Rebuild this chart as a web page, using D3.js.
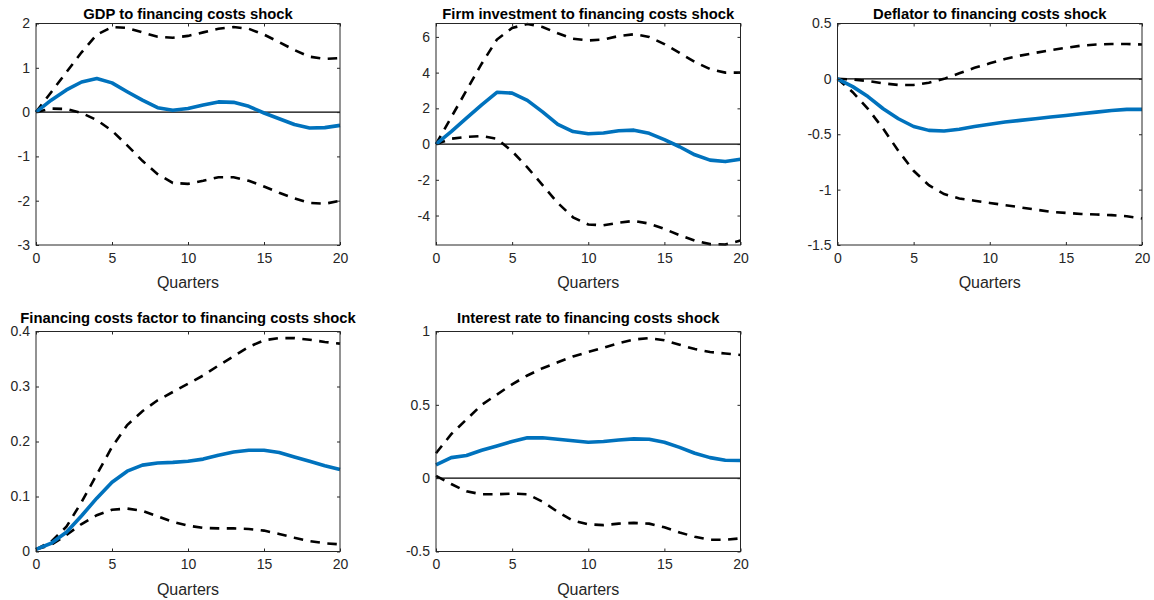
<!DOCTYPE html>
<html>
<head>
<meta charset="utf-8">
<script src="https://cdn.jsdelivr.net/npm/d3@7"></script>
<style>
  html, body { margin: 0; padding: 0; background: #fff; }
  svg { display: block; }
</style>
</head>
<body>
<svg id="chart" width="1154" height="600"></svg>
<script>
// ---------- DATA ----------
const quarters = d3.range(0, 21);
const xTicks = [0, 5, 10, 15, 20];
const xLabel = "Quarters";

const titles = [
  "GDP to financing costs shock",
  "Firm investment to financing costs shock",
  "Deflator to financing costs shock",
  "Financing costs factor to financing costs shock",
  "Interest rate to financing costs shock"
];

const gdpMed = [0, 0.27, 0.5, 0.68, 0.76, 0.66, 0.46, 0.27, 0.1, 0.04, 0.08, 0.16, 0.23, 0.22, 0.13, -0.02, -0.15, -0.28, -0.36, -0.35, -0.3];
const gdpUp  = [0, 0.45, 0.9, 1.35, 1.75, 1.92, 1.9, 1.8, 1.7, 1.68, 1.72, 1.8, 1.88, 1.92, 1.88, 1.75, 1.58, 1.4, 1.25, 1.2, 1.22];
const gdpLo  = [0, 0.08, 0.07, -0.02, -0.18, -0.42, -0.75, -1.1, -1.4, -1.6, -1.62, -1.55, -1.47, -1.47, -1.55, -1.68, -1.82, -1.95, -2.05, -2.07, -2.0];

const invMed = [0, 0.7, 1.45, 2.2, 2.9, 2.85, 2.45, 1.8, 1.1, 0.7, 0.58, 0.62, 0.75, 0.78, 0.6, 0.25, -0.15, -0.6, -0.9, -0.98, -0.85];
const invUp  = [0, 1.5, 3.0, 4.5, 5.85, 6.5, 6.72, 6.55, 6.2, 5.9, 5.8, 5.85, 6.05, 6.15, 6.0, 5.6, 5.1, 4.6, 4.2, 4.0, 4.0];
const invLo  = [0, 0.3, 0.4, 0.45, 0.3, -0.4, -1.3, -2.3, -3.3, -4.1, -4.5, -4.55, -4.4, -4.3, -4.45, -4.75, -5.1, -5.4, -5.6, -5.62, -5.4];

const defMed = [0, -0.07, -0.16, -0.27, -0.36, -0.43, -0.465, -0.47, -0.455, -0.43, -0.41, -0.39, -0.375, -0.36, -0.345, -0.33, -0.315, -0.3, -0.285, -0.275, -0.275];
const defUp  = [0, -0.005, -0.02, -0.04, -0.055, -0.055, -0.035, 0.0, 0.05, 0.1, 0.14, 0.18, 0.21, 0.235, 0.26, 0.28, 0.3, 0.31, 0.315, 0.315, 0.31];
const defLo  = [0, -0.12, -0.27, -0.45, -0.65, -0.83, -0.96, -1.04, -1.08, -1.1, -1.12, -1.14, -1.16, -1.18, -1.2, -1.21, -1.22, -1.225, -1.23, -1.24, -1.26];

const fcfMed = [0.004, 0.015, 0.035, 0.065, 0.097, 0.126, 0.146, 0.157, 0.161, 0.162, 0.164, 0.168, 0.175, 0.181, 0.184, 0.184, 0.18, 0.172, 0.164, 0.156, 0.149];
const fcfUp  = [0.004, 0.018, 0.045, 0.09, 0.14, 0.19, 0.23, 0.255, 0.275, 0.29, 0.305, 0.32, 0.338, 0.355, 0.372, 0.384, 0.388, 0.388, 0.385, 0.381, 0.378];
const fcfLo  = [0.004, 0.012, 0.03, 0.05, 0.066, 0.076, 0.078, 0.074, 0.064, 0.054, 0.047, 0.043, 0.042, 0.042, 0.041, 0.038, 0.032, 0.025, 0.019, 0.015, 0.013];

const irMed = [0.09, 0.14, 0.155, 0.19, 0.22, 0.25, 0.275, 0.275, 0.265, 0.255, 0.245, 0.25, 0.26, 0.268, 0.265, 0.245, 0.21, 0.17, 0.14, 0.122, 0.12];
const irUp  = [0.17, 0.3, 0.4, 0.5, 0.57, 0.64, 0.7, 0.75, 0.79, 0.83, 0.86, 0.89, 0.92, 0.945, 0.955, 0.94, 0.91, 0.88, 0.86, 0.85, 0.84];
const irLo  = [0.015, -0.04, -0.09, -0.11, -0.11, -0.105, -0.11, -0.16, -0.23, -0.29, -0.315, -0.32, -0.31, -0.305, -0.31, -0.335, -0.37, -0.4, -0.42, -0.42, -0.41];

const yDomains = [[-3, 2], [-5.65, 6.75], [-1.5, 0.5], [0, 0.4], [-0.5, 1]];
const yTicks = [
  [-3, -2, -1, 0, 1, 2],
  [-4, -2, 0, 2, 4, 6],
  [-1.5, -1, -0.5, 0, 0.5],
  [0, 0.1, 0.2, 0.3, 0.4],
  [-0.5, 0, 0.5, 1]
];
const medians = [gdpMed, invMed, defMed, fcfMed, irMed];
const uppers  = [gdpUp, invUp, defUp, fcfUp, irUp];
const lowers  = [gdpLo, invLo, defLo, fcfLo, irLo];

// ---------- LAYOUT ----------
const boxes = [
  {x: 36,  y: 23.5,  w: 304, h: 221.5, t: -5},
  {x: 436, y: 23.5,  w: 304.5, h: 221.5, t: -5},
  {x: 837.5, y: 23.5, w: 304.5, h: 221.5, t: -5},
  {x: 36,  y: 331.5, w: 304, h: 220, t: -8.5},
  {x: 436, y: 331.5, w: 304.5, h: 220, t: -8.5}
];

const svg = d3.select("#chart");
const fmt = d => String(+d.toFixed(3));
const axisColor = "#262626";
const tickLen = 3;

boxes.forEach((b, i) => {
  const g = svg.append("g").attr("transform", `translate(${b.x},${b.y})`);
  const x = d3.scaleLinear().domain([0, 20]).range([0, b.w]);
  const y = d3.scaleLinear().domain(yDomains[i]).range([b.h, 0]);

  // zero line
  g.append("line")
    .attr("x1", x(0)).attr("x2", x(20))
    .attr("y1", y(0)).attr("y2", y(0))
    .attr("stroke", "#000").attr("stroke-width", 1.2);

  const line = d3.line().x((d, k) => x(quarters[k])).y(d => y(d));

  [uppers[i], lowers[i]].forEach(arr => {
    g.append("path").datum(arr)
      .attr("d", line)
      .attr("fill", "none")
      .attr("stroke", "#000")
      .attr("stroke-width", 2.6)
      .attr("stroke-dasharray", "9.5,7.5");
  });

  g.append("path").datum(medians[i])
    .attr("d", line)
    .attr("fill", "none")
    .attr("stroke", "#0072BD")
    .attr("stroke-width", 3.6)
    .attr("stroke-linejoin", "round");

  // axes box
  g.append("rect")
    .attr("x", 0).attr("y", 0).attr("width", b.w).attr("height", b.h)
    .attr("fill", "none").attr("stroke", axisColor).attr("stroke-width", 1);

  // bottom axis
  const xa = d3.axisBottom(x).tickValues(xTicks).tickSize(-tickLen).tickPadding(tickLen + 5).tickFormat(fmt);
  const gx = g.append("g").attr("transform", `translate(0,${b.h})`).call(xa);
  // top ticks
  const gxt = g.append("g").call(d3.axisTop(x).tickValues(xTicks).tickSize(-tickLen).tickFormat(""));
  // left axis
  const ya = d3.axisLeft(y).tickValues(yTicks[i]).tickSize(-tickLen).tickPadding(tickLen + 3).tickFormat(fmt);
  const gy = g.append("g").call(ya);
  const gyr = g.append("g").attr("transform", `translate(${b.w},0)`)
    .call(d3.axisRight(y).tickValues(yTicks[i]).tickSize(-tickLen).tickFormat(""));

  [gx, gxt, gy, gyr].forEach(a => {
    a.select(".domain").remove();
    a.selectAll(".tick line").attr("stroke", axisColor);
    a.selectAll(".tick text")
      .attr("fill", axisColor)
      .style("font-family", "'Liberation Sans', Arial, sans-serif")
      .style("font-size", "14px");
  });
  gx.selectAll(".tick text").attr("dy", "0.71em");

  // x label
  g.append("text")
    .attr("x", b.w / 2).attr("y", b.h + 43)
    .attr("text-anchor", "middle")
    .attr("fill", axisColor)
    .style("font-family", "'Liberation Sans', Arial, sans-serif")
    .style("font-size", "16px")
    .text(xLabel);

  // title
  g.append("text")
    .attr("x", b.w / 2).attr("y", b.t)
    .attr("text-anchor", "middle")
    .attr("fill", "#000")
    .style("font-family", "'Liberation Sans', Arial, sans-serif")
    .style("font-weight", "bold")
    .style("font-size", "14.8px")
    .text(titles[i]);
});
</script>
</body>
</html>
